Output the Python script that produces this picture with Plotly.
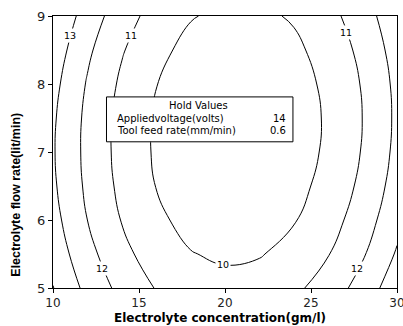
import plotly.graph_objects as go

# Electrolyte concentration (gm/l) and flow rate (lit/min) grid
conc = [10, 12, 14, 16, 18, 20, 22, 24, 26, 28, 30]
flow = [5.0, 5.5, 6.0, 6.5, 7.0, 7.5, 8.0, 8.5, 9.0]

# Response values on the grid (rows follow flow, columns follow conc)
response = [
    [14.03, 12.72, 11.70, 10.95, 10.49, 10.31, 10.41, 10.79, 11.45, 12.39, 13.61],
    [13.62, 12.31, 11.27, 10.52, 10.04, 9.85, 9.94, 10.31, 10.96, 11.89, 13.10],
    [13.33, 12.00, 10.96, 10.19, 9.71, 9.51, 9.58, 9.94, 10.58, 11.50, 12.70],
    [13.15, 11.81, 10.76, 9.98, 9.49, 9.27, 9.34, 9.69, 10.32, 11.22, 12.41],
    [13.08, 11.74, 10.67, 9.88, 9.38, 9.15, 9.21, 9.55, 10.16, 11.06, 12.24],
    [13.13, 11.77, 10.69, 9.90, 9.38, 9.15, 9.19, 9.52, 10.12, 11.01, 12.18],
    [13.29, 11.92, 10.83, 10.02, 9.50, 9.25, 9.29, 9.60, 10.20, 11.07, 12.23],
    [13.56, 12.18, 11.08, 10.26, 9.72, 9.47, 9.49, 9.80, 10.38, 11.25, 12.40],
    [13.94, 12.55, 11.44, 10.61, 10.06, 9.80, 9.81, 10.10, 10.68, 11.54, 12.67],
]

# Contour labels: level text and where it sits on its line
label_text = ["13", "11", "11", "10", "12", "12"]
label_x = [10.96, 14.56, 27.06, 19.91, 12.82, 27.65]
label_y = [8.71, 8.72, 8.76, 5.35, 5.29, 5.29]

# Hold values table
hold_names = ["Appliedvoltage(volts)", "Tool feed rate(mm/min)"]
hold_values = ["14", "0.6"]

x_ticks = [10, 15, 20, 25, 30]
y_ticks = [5, 6, 7, 8, 9]

fig = go.Figure()
fig.add_trace(go.Contour(
    x=conc, y=flow, z=response,
    contours=dict(start=10, end=14, size=1, coloring="none", showlabels=False),
    line=dict(color="black", width=1, smoothing=1.3),
    showscale=False, hoverinfo="skip",
))

annotations = []
for t, lx, ly in zip(label_text, label_x, label_y):
    annotations.append(dict(
        x=lx, y=ly, xref="x", yref="y", text=t, showarrow=False,
        font=dict(family="DejaVu Sans", size=9.5, color="black"),
        bgcolor="white", borderpad=1,
    ))

# Hold values box
box_x0, box_x1 = 13.11, 23.95
box_y0, box_y1 = 7.15, 7.81
annotations.append(dict(
    x=(box_x0 + box_x1) / 2 - 0.1, y=7.69, xref="x", yref="y", text="Hold Values",
    showarrow=False, font=dict(family="DejaVu Sans", size=10, color="black"),
))
for i, (nm, val) in enumerate(zip(hold_names, hold_values)):
    yy = 7.50 - i * 0.18
    annotations.append(dict(
        x=13.6, y=yy, xref="x", yref="y", text=nm, xanchor="left",
        showarrow=False, font=dict(family="DejaVu Sans", size=10, color="black"),
    ))
    annotations.append(dict(
        x=23.65, y=yy, xref="x", yref="y", text=val, xanchor="right",
        showarrow=False, font=dict(family="DejaVu Sans", size=10, color="black"),
    ))

# Axis titles
annotations.append(dict(
    x=0.485, y=0, xref="paper", yref="paper", yshift=-30, yanchor="middle",
    text="<b>Electrolyte concentration(gm/l)</b>", showarrow=False,
    font=dict(family="DejaVu Sans", size=12, color="black"),
))
annotations.append(dict(
    x=0, y=0.343, xref="paper", yref="paper", xshift=-37, xanchor="center",
    yanchor="middle",
    text="<b>Electrolyte flow rate(lit/min)</b>", showarrow=False, textangle=-90,
    font=dict(family="Liberation Sans", size=12.5, color="black"),
))

fig.update_layout(
    width=403, height=326,
    margin=dict(l=53, r=6, t=16, b=38, autoexpand=False),
    paper_bgcolor="white", plot_bgcolor="white",
    showlegend=False,
    shapes=[dict(type="rect", xref="x", yref="y", x0=box_x0, x1=box_x1,
                 y0=box_y0, y1=box_y1, fillcolor="white",
                 line=dict(color="black", width=1), layer="above")],
    annotations=annotations,
    font=dict(family="DejaVu Sans", size=12, color="#222"),
)
fig.update_xaxes(
    range=[10, 30], tickvals=x_ticks, ticks="outside", ticklen=4,
    tickcolor="black", showline=True, linecolor="black", linewidth=1,
    mirror=True, showgrid=False, zeroline=False, ticklabeloverflow="allow",
    automargin=False,
    tickfont=dict(family="DejaVu Sans", size=12, color="#222"),
)
fig.update_yaxes(
    range=[5, 9], tickvals=y_ticks, ticks="outside", ticklen=4,
    tickcolor="black", showline=True, linecolor="black", linewidth=1,
    mirror=True, showgrid=False, zeroline=False, ticklabeloverflow="allow",
    automargin=False,
    tickfont=dict(family="DejaVu Sans", size=13, color="#222"),
)

fig.write_html("out.html")
